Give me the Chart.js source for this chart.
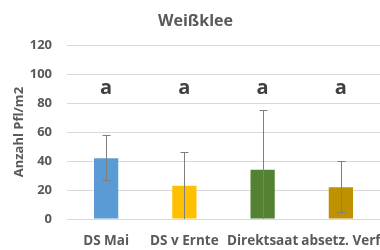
<!DOCTYPE html>
<html>
<head>
<meta charset="utf-8">
<script src="https://cdn.jsdelivr.net/npm/chart.js@4"></script>
<style>
  html, body { margin: 0; padding: 0; background: #fff; }
  #wrap { width: 380px; height: 250px; }
</style>
</head>
<body>
<div id="wrap"><canvas id="chart"></canvas></div>
<script>
// Data
const categories = ['DS Mai', 'DS v Ernte', 'Direktsaat', 'absetz. Verf'];
const values = [42, 23, 34, 22];
const errLow = [27, 0, 0, 5];
const errHigh = [58, 46, 75, 40];
const letters = ['a', 'a', 'a', 'a'];
const letterLevel = 90;
const barColors = ['#5b9bd5', '#ffc000', '#548235', '#bf9000'];

const textGrey = '#595959';

// Error bars + significance letters
const extrasPlugin = {
  id: 'extras',
  afterDatasetsDraw(chart) {
    const ctx = chart.ctx;
    const y = chart.scales.y;
    const meta = chart.getDatasetMeta(0);
    ctx.save();
    ctx.strokeStyle = '#7f7f7f';
    ctx.lineWidth = 1;
    meta.data.forEach((bar, i) => {
      const x = Math.round(bar.x) + 0.5;
      const yl = y.getPixelForValue(errLow[i]);
      const yh = y.getPixelForValue(errHigh[i]);
      ctx.beginPath();
      ctx.moveTo(x, yl);
      ctx.lineTo(x, yh);
      ctx.moveTo(x - 4, Math.round(yh) + 0.5);
      ctx.lineTo(x + 4, Math.round(yh) + 0.5);
      if (errLow[i] > 0) {
        ctx.moveTo(x - 4, Math.round(yl) + 0.5);
        ctx.lineTo(x + 4, Math.round(yl) + 0.5);
      }
      ctx.stroke();
    });
    ctx.fillStyle = '#404040';
    ctx.font = 'bold 20px "Open Sans"';
    ctx.textAlign = 'center';
    ctx.textBaseline = 'middle';
    meta.data.forEach((bar, i) => {
      ctx.fillText(letters[i], bar.x, y.getPixelForValue(letterLevel));
    });
    ctx.restore();
  }
};

new Chart(document.getElementById('chart'), {
  type: 'bar',
  data: {
    labels: categories,
    datasets: [{
      data: values,
      backgroundColor: barColors,
      borderWidth: 0,
      barPercentage: 0.5,
      categoryPercentage: 0.62
    }]
  },
  options: {
    responsive: true,
    maintainAspectRatio: false,
    animation: false,
    layout: { padding: { left: 11, right: 0, top: 0, bottom: 0 } },
    plugins: {
      legend: { display: false },
      tooltip: { enabled: false },
      title: {
        display: true,
        text: 'Weißklee',
        color: textGrey,
        font: { family: 'Open Sans', size: 16, weight: 'bold' },
        padding: { top: 12, bottom: 14 }
      }
    },
    scales: {
      x: {
        grid: { display: false },
        border: { display: false },
        ticks: {
          color: textGrey,
          font: { family: 'Open Sans', size: 13.5, weight: 'bold' },
          padding: 6,
          autoSkip: false,
          maxRotation: 0,
          minRotation: 0
        },
        afterFit(scale) {
          scale.paddingLeft = 0;
          scale.paddingRight = 0;
          scale.height = 31;
        }
      },
      y: {
        min: 0,
        max: 120,
        grid: { color: '#d9d9d9', drawTicks: false },
        border: { display: false },
        ticks: {
          stepSize: 20,
          color: textGrey,
          font: { family: 'Open Sans', size: 13, weight: 'bold' },
          padding: 15
        },
        title: {
          display: true,
          text: 'Anzahl Pfl/m2',
          color: textGrey,
          font: { family: 'Open Sans', size: 13, weight: 'bold' },
          padding: { top: 0, bottom: 4 }
        },
        afterFit(scale) {
          scale.width = 56;
        }
      }
    }
  },
  plugins: [extrasPlugin]
});
</script>
</body>
</html>
